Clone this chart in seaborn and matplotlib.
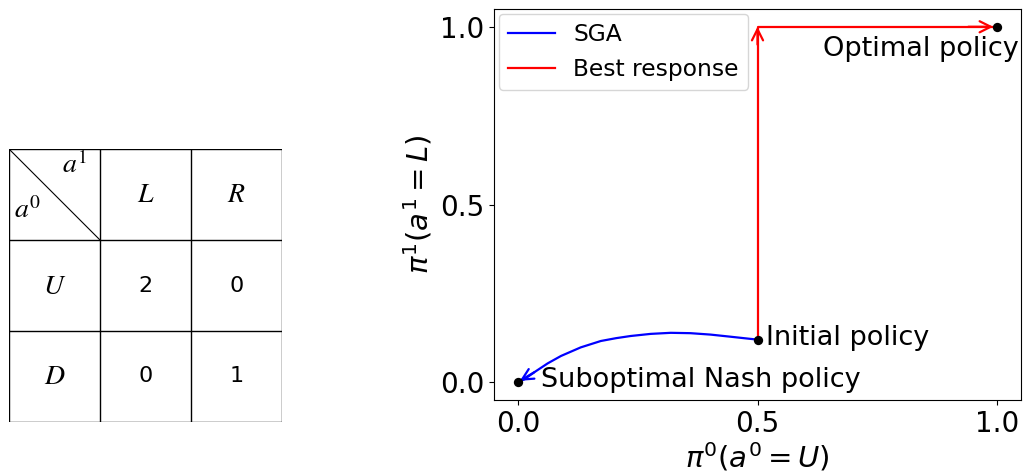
import matplotlib
matplotlib.use("Agg")
import matplotlib.pyplot as plt
import seaborn as sns
import numpy as np
import pandas as pd

# ---- data ----
sga_x = [0.5, 0.485, 0.444, 0.402, 0.360, 0.319, 0.277, 0.235, 0.205, 0.173,
         0.131, 0.090, 0.062, 0.034, 0.013, 0.0]
sga_y = [0.12, 0.122, 0.128, 0.134, 0.138, 0.139, 0.136, 0.130, 0.124, 0.116,
         0.098, 0.074, 0.053, 0.028, 0.008, 0.0]
br_x = [0.5, 0.5, 1.0]
br_y = [0.12, 1.0, 1.0]
point_x = [1.0, 0.5, 0.0]
point_y = [1.0, 0.12, 0.0]
point_labels = ["Optimal policy", "Initial policy", "Suboptimal Nash policy"]
ticks = [0.0, 0.5, 1.0]

row_labels = ["$U$", "$D$"]
col_labels = ["$L$", "$R$"]
payoffs = [["2", "0"], ["0", "1"]]

plt.rcParams["font.family"] = ["DejaVu Sans"]

fig = plt.figure(figsize=(10.23, 4.75), dpi=100)

# ---- payoff table ----
tax = fig.add_axes([9/1023, (475-422)/475, 273/1023, 273/475])
tax.set_xlim(0, 3)
tax.set_ylim(0, 3)
tax.axis("off")
for k in range(4):
    tax.plot([k, k], [0, 3], color="black", lw=1, solid_capstyle="butt")
    tax.plot([0, 3], [k, k], color="black", lw=1, solid_capstyle="butt")
tax.plot([0, 1], [3, 2], color="black", lw=0.8)
tax.text(0.72, 2.82, "$a^1$", math_fontfamily="stix", fontsize=20, ha="center", va="center")
tax.text(0.2, 2.33, "$a^0$", math_fontfamily="stix", fontsize=20, ha="center", va="center")
for j, c in enumerate(col_labels):
    tax.text(1.5 + j, 2.5, c, math_fontfamily="stix", fontsize=20, ha="center", va="center")
for i, r in enumerate(row_labels):
    tax.text(0.5, 1.5 - i, r, math_fontfamily="stix", fontsize=20, ha="center", va="center")
    for j in range(2):
        tax.text(1.5 + j, 1.5 - i, payoffs[i][j], fontsize=16, ha="center", va="center")

# ---- main plot ----
ax = fig.add_axes([494/1023, (475-400)/475, 527/1023, 391/475])
sga_df = pd.DataFrame({"x": sga_x, "y": sga_y})
br_df = pd.DataFrame({"x": br_x, "y": br_y})
sns.lineplot(data=sga_df, x="x", y="y", sort=False, estimator=None, color="blue", lw=1.6, label="SGA", ax=ax)
sns.lineplot(data=br_df, x="x", y="y", sort=False, estimator=None, color="red", lw=1.6, label="Best response", ax=ax)

arrow_kw = dict(arrowstyle="->", lw=1.6, mutation_scale=20, shrinkA=0, shrinkB=0)
ax.annotate("", xy=(br_x[1], br_y[1]), xytext=(br_x[0], br_y[1] - 0.05),
            arrowprops=dict(color="red", **arrow_kw))
ax.annotate("", xy=(br_x[2] - 0.008, br_y[2]), xytext=(br_x[2] - 0.06, br_y[2]),
            arrowprops=dict(color="red", **arrow_kw))
ax.annotate("", xy=(sga_x[-1] + 0.004, sga_y[-1] + 0.004), xytext=(sga_x[-3], sga_y[-3]),
            arrowprops=dict(color="blue", **arrow_kw))

sns.scatterplot(x=point_x, y=point_y, color="black", s=45, zorder=5, ax=ax, linewidth=0)

ax.text(0.6375, 0.918, point_labels[0], fontsize=19.5, va="baseline", ha="left")
ax.text(0.517, 0.105, point_labels[1], fontsize=19.5, va="baseline", ha="left")
ax.text(0.048, -0.014, point_labels[2], fontsize=19.5, va="baseline", ha="left")

ax.set_xlim(-0.05, 1.05)
ax.set_ylim(-0.05, 1.05)
ax.set_xticks(ticks)
ax.set_yticks(ticks)
ax.tick_params(labelsize=20)
ax.set_xlabel(r"$\pi^0(a^0=U)$", fontsize=21, labelpad=2)
ax.set_ylabel(r"$\pi^1(a^1=L)$", fontsize=21)
ax.legend(loc="upper left", fontsize=16.8, borderaxespad=0.2)

fig.savefig("out.png", dpi=100)
